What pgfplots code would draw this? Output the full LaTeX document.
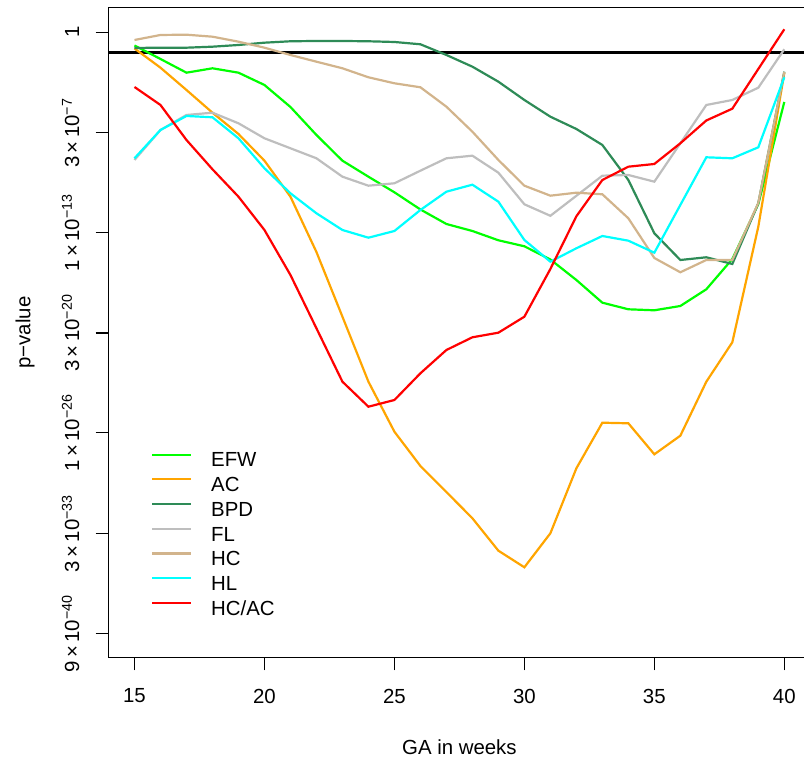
\documentclass[border=0pt]{standalone}
\usepackage{pgfplots}
\pgfplotsset{compat=1.18}
\usepackage{fontspec}
\setmainfont{Liberation Sans}
\definecolor{cEFW}{RGB}{0,255,0}
\definecolor{cAC}{RGB}{255,165,0}
\definecolor{cBPD}{RGB}{46,139,87}
\definecolor{cFL}{RGB}{190,190,190}
\definecolor{cHC}{RGB}{210,180,140}
\definecolor{cHL}{RGB}{0,255,255}
\definecolor{cHCAC}{RGB}{255,0,0}
\newcommand{\sci}[2]{#1\,×\,10\textsuperscript{−#2}}
\begin{document}
\fontsize{10.2}{12}\selectfont
\begin{tikzpicture}
\path[use as bounding box] (0,0) rectangle (402pt,380pt);
\begin{axis}[
  at={(54.25pt,51.15pt)}, anchor=south west,
  scale only axis, width=350.9pt, height=325.1pt,
  xmin=14, xmax=41, ymin=-40.61, ymax=1.61,
  axis line style={line width=0.6pt, black},
  tick pos=left, tick align=outside, major tick length=6.4pt,
  tick style={line width=0.6pt, black},
  xtick={15,20,25,30,35,40},
  /pgf/number format/assume math mode=true,
  xticklabel style={inner sep=0pt, anchor=north},
  xticklabel shift=9pt,
  ytick={0,-6.523,-13,-19.523,-26,-32.523,-39.046},
  yticklabels={1,\sci{3}{7},\sci{1}{13},\sci{3}{20},\sci{1}{26},\sci{3}{33},\sci{9}{40}},
  yticklabel style={rotate=90, anchor=base, inner sep=0pt},
  yticklabel shift=8.25pt,
  xlabel={GA in weeks},
  xlabel style={at={(axis description cs:0.5,-0.137)}, anchor=center, inner sep=0pt},
  ylabel={p−value},
  ylabel style={at={(axis description cs:-0.119,0.5)}, anchor=center, rotate=0, inner sep=0pt},
  legend style={draw=none, fill=none, at={(axis description cs:0.0605,0.3164)}, anchor=north west,
    inner sep=0pt, outer sep=0pt, row sep=2.35pt, column sep=9.5pt,
    nodes={inner sep=0pt, text height=7.5pt, text depth=2.5pt}},
  legend cell align=left,
  legend image code/.code={\draw[#1] (0pt,3.65pt) -- (19.5pt,3.65pt);},
  every axis plot/.append style={line width=1.1pt},
]
\addplot[black, line width=1.4pt, forget plot] coordinates {(14,-1.301) (41,-1.301)};
% EFW
\addplot[cEFW] coordinates {
(15,-0.857) (16,-1.734) (17,-2.623) (18,-2.338) (19,-2.623) (20,-3.422) (21,-4.851) (22,-6.669)
(23,-8.338) (24,-9.377) (25,-10.390) (26,-11.506) (27,-12.448) (28,-12.903) (29,-13.506) (30,-13.896)
(31,-14.753) (32,-16.084) (33,-17.558) (34,-17.987) (35,-18.052) (36,-17.773) (37,-16.688) (38,-14.721)
(39,-11.149) (40,-4.526)};
\addlegendentry{EFW}
% AC
\addplot[cAC] coordinates {
(15,-1.052) (16,-2.299) (17,-3.747) (18,-5.221) (19,-6.604) (20,-8.338) (21,-10.675) (22,-14.266)
(23,-18.468) (24,-22.688) (25,-25.935) (26,-28.162) (27,-29.851) (28,-31.558) (29,-33.662) (30,-34.740)
(31,-32.532) (32,-28.312) (33,-25.351) (34,-25.390) (35,-27.403) (36,-26.195) (37,-22.688) (38,-20.130)
(39,-12.623) (40,-2.643)};
\addlegendentry{AC}
% BPD
\addplot[cBPD] coordinates {
(15,-1.019) (16,-1.000) (17,-1.000) (18,-0.935) (19,-0.825) (20,-0.675) (21,-0.584) (22,-0.565)
(23,-0.565) (24,-0.584) (25,-0.630) (26,-0.779) (27,-1.474) (28,-2.234) (29,-3.208) (30,-4.396)
(31,-5.481) (32,-6.279) (33,-7.318) (34,-9.591) (35,-13.052) (36,-14.786) (37,-14.610) (38,-15.045)
(39,-11.104) (40,-2.558)};
\addlegendentry{BPD}
% FL
\addplot[cFL] coordinates {
(15,-8.292) (16,-6.344) (17,-5.370) (18,-5.221) (19,-5.909) (20,-6.883) (21,-7.532) (22,-8.182)
(23,-9.377) (24,-9.961) (25,-9.805) (26,-8.987) (27,-8.182) (28,-8.013) (29,-9.117) (30,-11.169)
(31,-11.916) (32,-10.617) (33,-9.312) (34,-9.266) (35,-9.701) (36,-7.208) (37,-4.721) (38,-4.396)
(39,-3.597) (40,-1.104)};
\addlegendentry{FL}
% HC
\addplot[cHC] coordinates {
(15,-0.500) (16,-0.175) (17,-0.156) (18,-0.286) (19,-0.610) (20,-1.000) (21,-1.474) (22,-1.909)
(23,-2.338) (24,-2.922) (25,-3.312) (26,-3.571) (27,-4.831) (28,-6.455) (29,-8.292) (30,-9.961)
(31,-10.610) (32,-10.416) (33,-10.519) (34,-12.078) (35,-14.656) (36,-15.584) (37,-14.786) (38,-14.786)
(39,-11.084) (40,-2.578)};
\addlegendentry{HC}
% HL
\addplot[cHL] coordinates {
(15,-8.182) (16,-6.344) (17,-5.435) (18,-5.519) (19,-6.883) (20,-8.831) (21,-10.455) (22,-11.753)
(23,-12.838) (24,-13.338) (25,-12.903) (26,-11.539) (27,-10.351) (28,-9.896) (29,-11.000) (30,-13.487)
(31,-14.896) (32,-14.026) (33,-13.227) (34,-13.532) (35,-14.312) (36,-11.214) (37,-8.117) (38,-8.182)
(39,-7.468) (40,-2.922)};
\addlegendentry{HL}
% HC/AC
\addplot[cHCAC] coordinates {
(15,-3.552) (16,-4.721) (17,-6.994) (18,-8.896) (19,-10.675) (20,-12.838) (21,-15.760) (22,-19.221)
(23,-22.688) (24,-24.312) (25,-23.877) (26,-22.143) (27,-20.630) (28,-19.805) (29,-19.506) (30,-18.468)
(31,-15.370) (32,-11.948) (33,-9.591) (34,-8.727) (35,-8.552) (36,-7.208) (37,-5.727) (38,-4.961)
(39,-2.383) (40,0.195)};
\addlegendentry{HC/AC}
\end{axis}
\end{tikzpicture}
\end{document}
